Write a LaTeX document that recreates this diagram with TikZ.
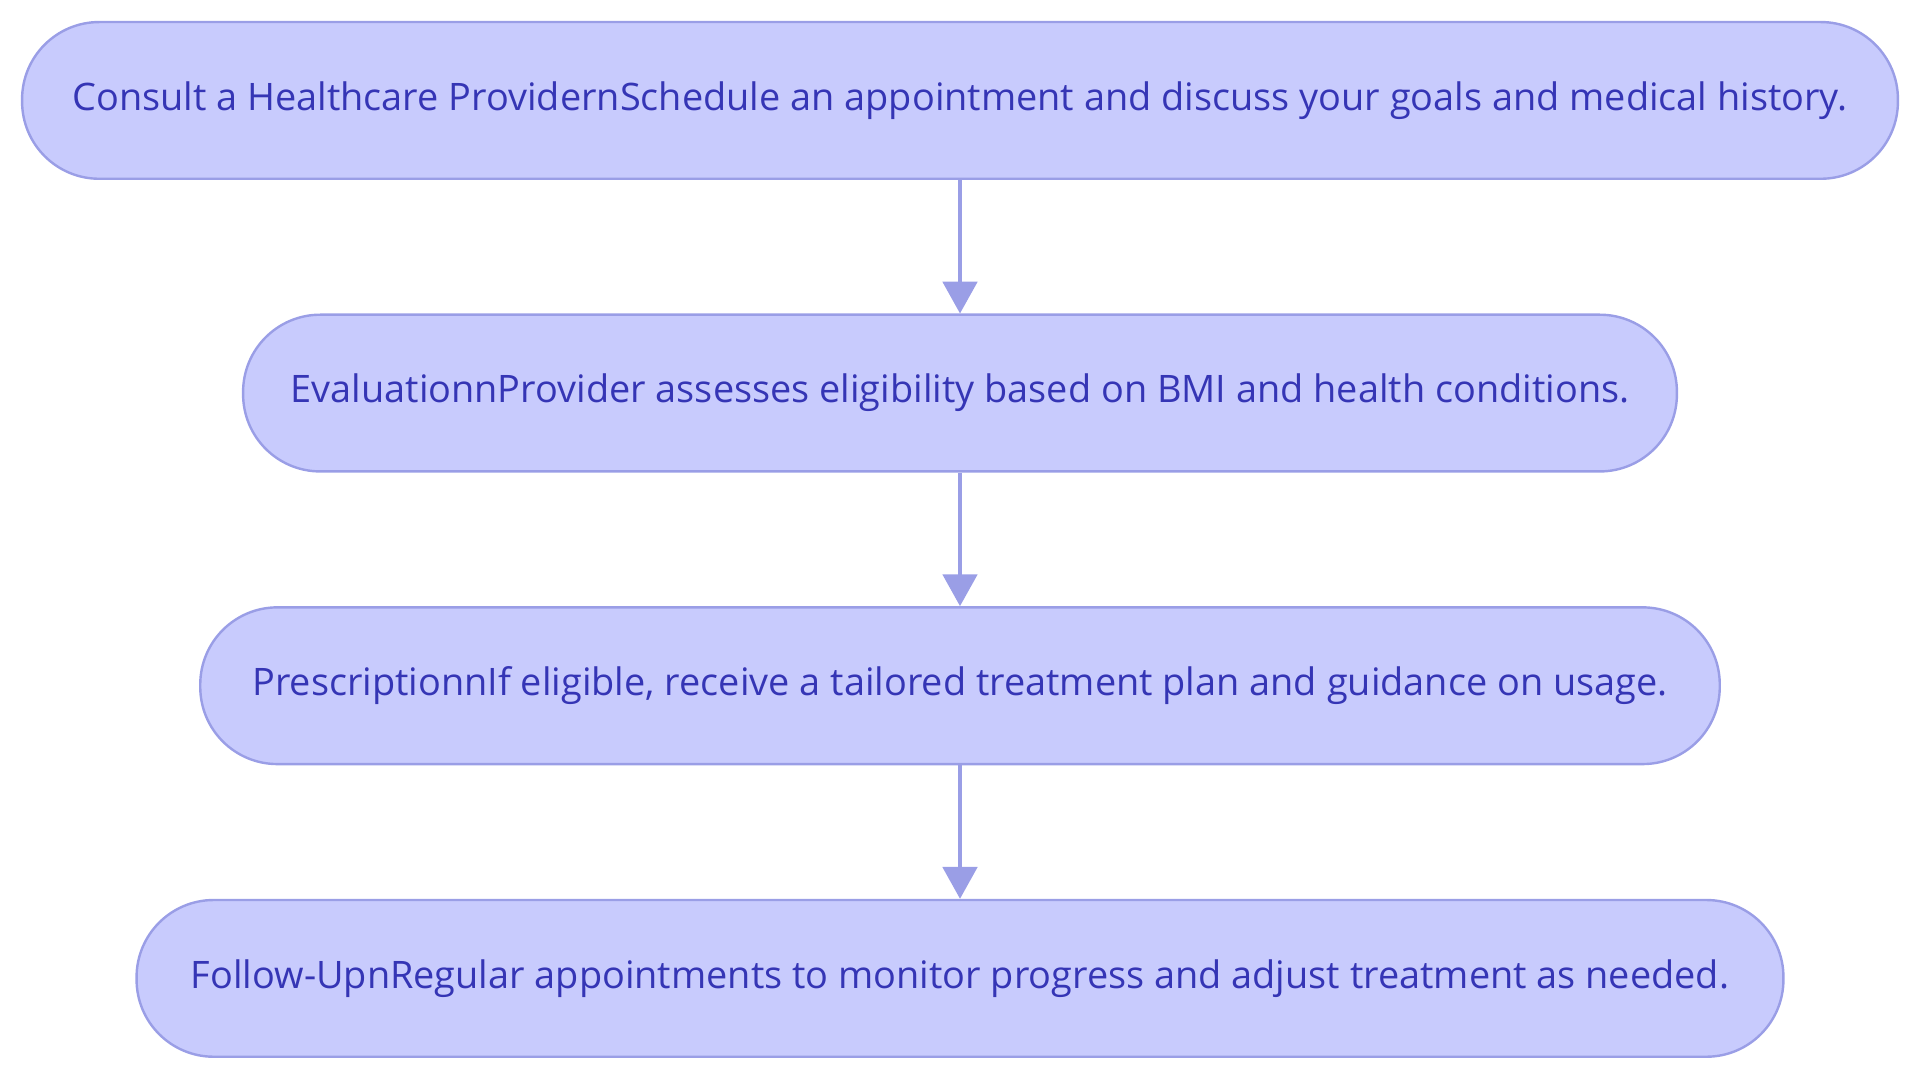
\documentclass[tikz,border=0pt]{standalone}
\usepackage{fontspec}
\setmainfont{Open Sans}
\usetikzlibrary{arrows.meta}
\definecolor{boxfill}{HTML}{C8CBFD}
\definecolor{boxdraw}{HTML}{9A9EE6}
\definecolor{txt}{HTML}{3535B5}
\begin{document}
\begin{tikzpicture}[x=0.05cm,y=-0.05cm,
  pillbox/.style={draw=boxdraw,line width=2.8pt,fill=boxfill,rounded corners=3.15cm,text=txt,
    font=\fontsize{44}{52}\selectfont,minimum height=6.4cm,inner sep=0pt},
  conn/.style={draw=boxdraw,line width=4.3pt,-{Triangle[length=37pt,width=40pt]}}]
\useasboundingbox (0,0) rectangle (1568,884);
\node[pillbox,minimum width=76.6cm] (a) at (784,82) {Consult a Healthcare ProvidernSchedule an appointment and discuss your goals and medical history.};
\node[pillbox,minimum width=58.55cm] (b) at (784,321) {EvaluationnProvider assesses eligibility based on BMI and health conditions.};
\node[pillbox,minimum width=62.05cm] (c) at (784,560) {PrescriptionnIf eligible, receive a tailored treatment plan and guidance on usage.};
\node[pillbox,minimum width=67.25cm] (d) at (784,799) {Follow-UpnRegular appointments to monitor progress and adjust treatment as needed.};
\draw[conn] (a) -- (b);
\draw[conn] (b) -- (c);
\draw[conn] (c) -- (d);
\end{tikzpicture}
\end{document}
